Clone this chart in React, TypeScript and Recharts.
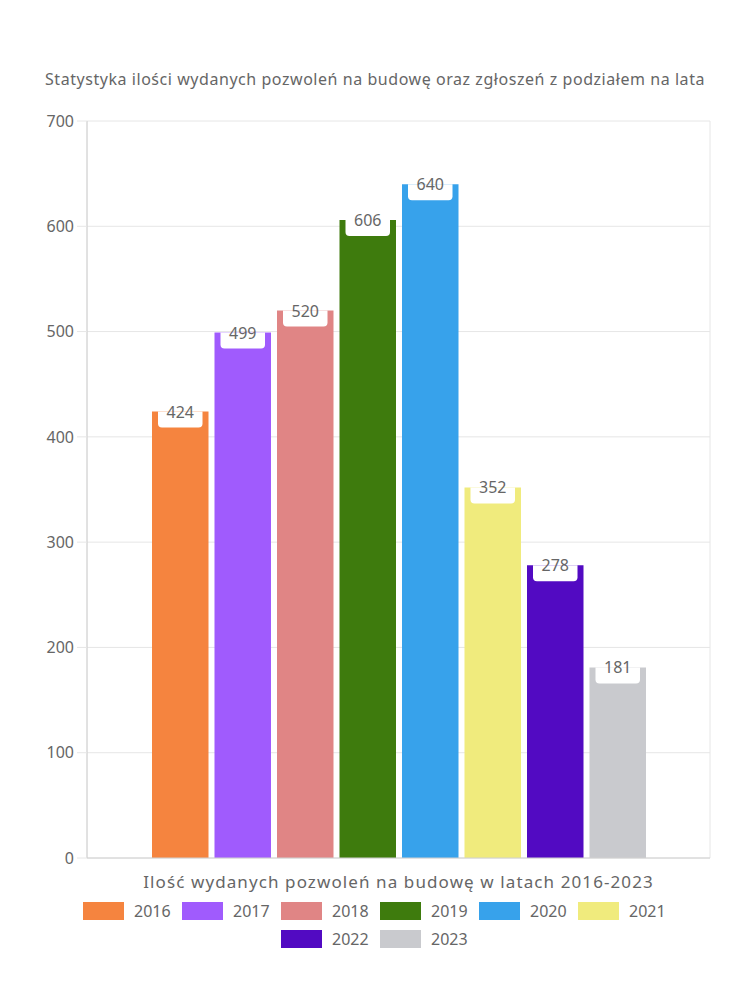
import React from "react";
import { BarChart, Bar, XAxis, YAxis, CartesianGrid, LabelList } from "recharts";

const years = ["2016", "2017", "2018", "2019", "2020", "2021", "2022", "2023"];
const values = [424, 499, 520, 606, 640, 352, 278, 181];
const colors = ["#F5843F", "#A05BFD", "#E08585", "#3E7B0D", "#37A2EB", "#F0EB7D", "#520AC2", "#C9CACE"];
const yTicks = [0, 100, 200, 300, 400, 500, 600, 700];

const title = "Statystyka ilości wydanych pozwoleń na budowę oraz zgłoszeń z podziałem na lata";
const xTitle = "Ilość wydanych pozwoleń na budowę w latach 2016-2023";

const FONT = "'Noto Sans', sans-serif";
const TEXT = "#666";

const row: Record<string, string | number> = { name: "Pozwolenia" };
years.forEach((y, i) => { row["y" + y] = values[i]; });
const data = [row];

function ValueTag(props: any) {
  const { x, y, width, value } = props;
  const bx = x + 6;
  const bw = width - 12;
  const h = 16;
  const r = 4;
  const d = `M${bx},${y} H${bx + bw} V${y + h - r} Q${bx + bw},${y + h} ${bx + bw - r},${y + h} H${bx + r} Q${bx},${y + h} ${bx},${y + h - r} Z`;
  return (
    <g>
      <path d={d} fill="#fff" />
      <text x={x + width / 2} y={y + 6} textAnchor="middle" fontSize={16} fill={TEXT} fontFamily={FONT}>
        {value}
      </text>
    </g>
  );
}

function LegendBlock() {
  return (
    <div style={{ position: "absolute", top: 902, left: 40, width: 680, display: "flex", flexWrap: "wrap", justifyContent: "center", rowGap: 10 }}>
      {years.map((y, i) => (
        <div key={y} style={{ display: "flex", alignItems: "center", marginRight: 12 }}>
          <span style={{ display: "inline-block", width: 41, height: 18, background: colors[i], marginRight: 10 }} />
          <span style={{ fontSize: 16, color: TEXT, lineHeight: "18px", width: 36 }}>{y}</span>
        </div>
      ))}
    </div>
  );
}

export default function App() {
  return (
    <div style={{ position: "absolute", top: 0, left: 0, width: 750, height: 1000, background: "#fff", fontFamily: FONT }}>
      <div style={{ position: "absolute", top: 68, left: 0, width: 750, textAlign: "center", fontSize: 16, letterSpacing: 0.55, color: TEXT }}>
        {title}
      </div>
      <BarChart
        width={750}
        height={900}
        data={data}
        margin={{ top: 121, right: 40, bottom: 12, left: 0 }}
        barSize={56.5}
        barGap={6}
      >
        <CartesianGrid
          stroke="#e6e6e6"
          verticalCoordinatesGenerator={({ offset }: any) => [offset.left, offset.left + offset.width]}
        />
        <XAxis
          dataKey="name"
          height={30}
          tick={false}
          tickLine={false}
          axisLine={{ stroke: "#d0d0d0" }}
          label={{ value: xTitle, position: "insideBottom", offset: 0, fontSize: 17, letterSpacing: 1.1, fill: TEXT, fontFamily: FONT }}
        />
        <YAxis
          width={87}
          domain={[0, 700]}
          ticks={yTicks}
          tickSize={10}
          tickMargin={3}
          tickLine={{ stroke: "#e6e6e6" }}
          axisLine={{ stroke: "#d0d0d0" }}
          tick={{ fontSize: 16, fill: TEXT, fontFamily: FONT }}
        />
        {years.map((y, i) => (
          <Bar key={y} dataKey={"y" + y} name={y} fill={colors[i]} isAnimationActive={false}>
            <LabelList dataKey={"y" + y} content={ValueTag} />
          </Bar>
        ))}
      </BarChart>
      <LegendBlock />
    </div>
  );
}
